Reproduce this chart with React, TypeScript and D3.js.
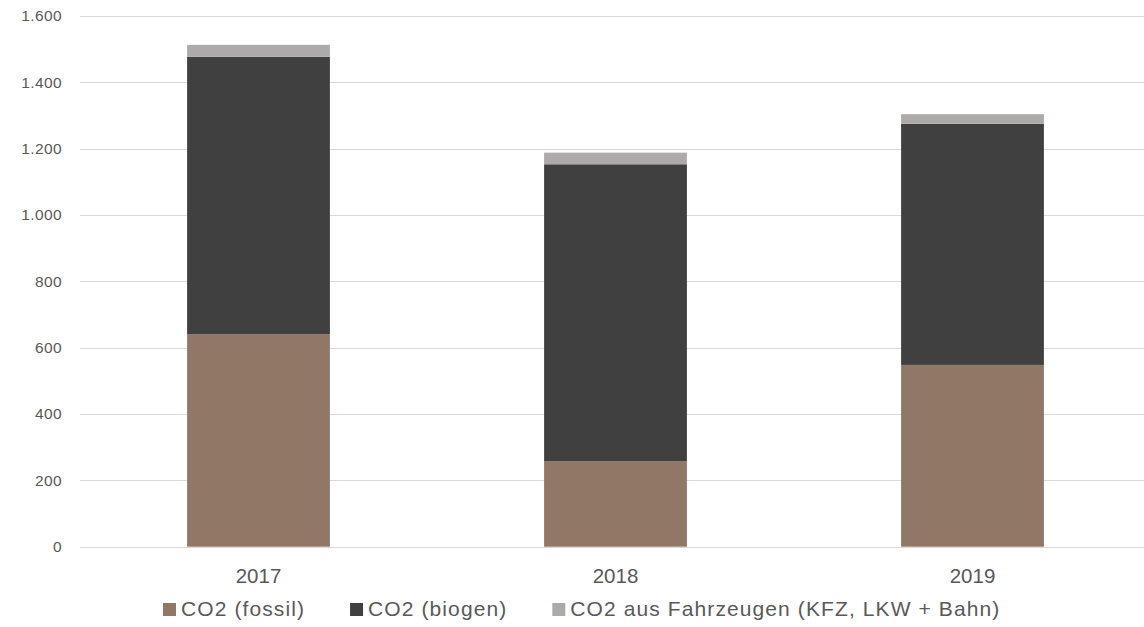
import React, { useRef, useEffect } from "react";
import * as d3 from "d3";

const years = ["2017", "2018", "2019"];
const fossil = [641, 258, 548];
const biogen = [836, 895, 727];
const fahrzeuge = [36, 35, 29];
const seriesNames = ["CO2 (fossil)", "CO2 (biogen)", "CO2 aus Fahrzeugen (KFZ, LKW + Bahn)"];
const seriesColors = ["#917766", "#404040", "#aeaaaa"];
const yTicks = [0, 200, 400, 600, 800, 1000, 1200, 1400, 1600];

export default function App() {
    const svgRef = useRef<SVGSVGElement>(null);
    const width = 1144;
    const height = 627;

    useEffect(() => {
        document.body.style.margin = "0";
        if (!svgRef.current) return;
        const svg = d3.select(svgRef.current);
        svg.selectAll("*").remove();

        const font = "'Liberation Sans', Arial, sans-serif";
        const textColor = "#595959";
        const de = d3.formatLocale({ decimal: ",", thousands: ".", grouping: [3], currency: ["", " €"] });
        const fmt = de.format(",.0f");

        const x = d3.scaleBand<string>()
            .domain(years)
            .range([80, 1151])
            .paddingInner(0.6)
            .paddingOuter(0.3);

        const y = d3.scaleLinear()
            .domain([0, 1600])
            .range([546.7, 16]);

        // Grid lines
        svg.append("g")
            .selectAll("line")
            .data(yTicks)
            .join("line")
            .attr("x1", 80)
            .attr("x2", width)
            .attr("y1", d => Math.round(y(d)) + 0.5)
            .attr("y2", d => Math.round(y(d)) + 0.5)
            .attr("stroke", "#d9d9d9")
            .attr("stroke-width", 1);

        // Y labels
        svg.append("g")
            .selectAll("text")
            .data(yTicks)
            .join("text")
            .attr("x", 62)
            .attr("y", d => y(d))
            .attr("dy", "0.35em")
            .attr("text-anchor", "end")
            .attr("font-family", font)
            .attr("font-size", 15.5)
            .attr("letter-spacing", "0.4px")
            .attr("fill", textColor)
            .text(d => fmt(d));

        // Stacked bars
        const rows = years.map((yr, i) => ({ year: yr, fossil: fossil[i], biogen: biogen[i], fahrzeuge: fahrzeuge[i] }));
        const stack = d3.stack<any>().keys(["fossil", "biogen", "fahrzeuge"]);
        const layers = stack(rows);

        svg.append("g")
            .selectAll("g")
            .data(layers)
            .join("g")
            .attr("fill", (_, i) => seriesColors[i])
            .selectAll("rect")
            .data(d => d)
            .join("rect")
            .attr("x", d => x(d.data.year)!)
            .attr("width", x.bandwidth())
            .attr("y", d => y(d[1]))
            .attr("height", d => y(d[0]) - y(d[1]));

        // X labels
        svg.append("g")
            .selectAll("text")
            .data(years)
            .join("text")
            .attr("x", d => x(d)! + x.bandwidth() / 2)
            .attr("y", 583)
            .attr("text-anchor", "middle")
            .attr("font-family", font)
            .attr("font-size", 20.5)
            .attr("fill", textColor)
            .text(d => d);

        // Legend
        const legend = svg.append("g");
        let lx = 163;
        seriesNames.forEach((name, i) => {
            legend.append("rect")
                .attr("x", lx)
                .attr("y", 603)
                .attr("width", 13)
                .attr("height", 13)
                .attr("fill", seriesColors[i]);
            const t = legend.append("text")
                .attr("x", lx + 18)
                .attr("y", 616)
                .attr("font-family", font)
                .attr("font-size", 21)
                .attr("letter-spacing", "1.1px")
                .attr("fill", textColor)
                .text(name);
            const w = (t.node() as SVGTextElement).getComputedTextLength();
            lx = lx + 18 + w + 45;
        });
    }, []);

    return (
        <svg ref={svgRef} width={width} height={height} style={{ display: "block", background: "#ffffff" }} />
    );
}
